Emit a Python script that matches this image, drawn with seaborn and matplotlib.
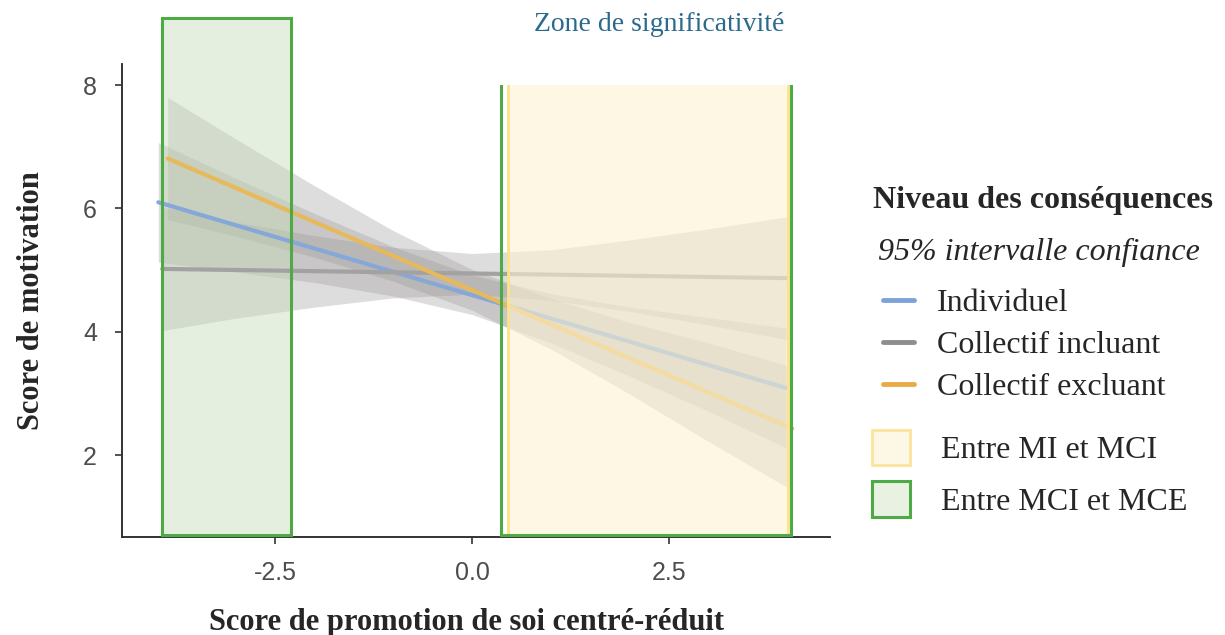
import numpy as np
import pandas as pd
import matplotlib.pyplot as plt
import seaborn as sns
from matplotlib.patches import Rectangle, Patch
from matplotlib.lines import Line2D

# groups and colours
groups = ["Individuel", "Collectif incluant", "Collectif excluant"]
line_colors = ["#86A8D8", "#A2A2A2", "#E8B95A"]
legend_colors = ["#7BA3D8", "#8E8E8E", "#E9AC45"]

# fitted simple slopes (end points)
ind_x = [-3.98, 3.98]
ind_y = [6.10, 3.09]
inc_x = [-3.93, 4.02]
inc_y = [5.02, 4.87]
exc_x = [-3.86, 4.06]
exc_y = [6.81, 2.43]

# 95% confidence bands
ind_ci_x = [-3.98, -3, -2, -1, 0, 1, 2, 3, 3.98]
ind_lo = [5.13, 4.97, 4.80, 4.58, 4.28, 3.82, 3.28, 2.71, 2.12]
ind_hi = [7.07, 6.49, 5.92, 5.38, 4.92, 4.62, 4.40, 4.23, 4.06]
inc_ci_x = [-3.93, -3, -2, -1, 0, 1, 2, 3, 4.02]
inc_lo = [4.02, 4.22, 4.40, 4.55, 4.61, 4.51, 4.33, 4.11, 3.87]
inc_hi = [6.02, 5.78, 5.56, 5.37, 5.27, 5.33, 5.49, 5.67, 5.87]
exc_ci_x = [-3.86, -3, -2, -1, 0, 1, 2, 3, 4.06]
exc_lo = [5.82, 5.55, 5.21, 4.82, 4.35, 3.72, 2.99, 2.22, 1.43]
exc_hi = [7.80, 7.13, 6.37, 5.64, 5.01, 4.54, 4.15, 3.82, 3.43]

# significance zones: (x start, x end, y top)
zones_mci_mce = [(-3.93, -2.30, 9.09), (0.37, 4.05, 8.10)]
zones_mi_mci = [(0.45, 4.01, 8.10)]
zone_bottom = 0.70
zone_clip_top = 8.0

xticks = [-2.5, 0.0, 2.5]
yticks = [2, 4, 6, 8]

sns.set_style("ticks")
plt.rcParams["font.family"] = ["Liberation Serif", "DejaVu Serif"]
tick_family = ["Liberation Sans Narrow", "Liberation Sans", "DejaVu Sans"]

fig = plt.figure(figsize=(12.25, 6.35), dpi=100)
ax = fig.add_axes([0.0996, 0.154, 0.578, 0.745])

df = pd.DataFrame({
    "x": ind_x + inc_x + exc_x,
    "y": ind_y + inc_y + exc_y,
    "groupe": [groups[0]] * 2 + [groups[1]] * 2 + [groups[2]] * 2,
})

# bands
for bx, lo, hi in [(ind_ci_x, ind_lo, ind_hi), (inc_ci_x, inc_lo, inc_hi), (exc_ci_x, exc_lo, exc_hi)]:
    ax.fill_between(bx, lo, hi, color="#9A9696", alpha=0.32, lw=0, zorder=1)

sns.lineplot(data=df, x="x", y="y", hue="groupe", hue_order=groups,
             palette=dict(zip(groups, line_colors)), lw=3, legend=False,
             ax=ax, zorder=3)

# zones
top_clip = Rectangle((-10, 0), 20, zone_clip_top, transform=ax.transData)
x0, x1, top = zones_mci_mce[0]
ax.add_patch(Rectangle((x0, zone_bottom), x1 - x0, top - zone_bottom,
                       facecolor=(198/255, 220/255, 184/255, 0.45), edgecolor="none",
                       clip_on=False, zorder=2))
for x0, x1, top in zones_mi_mci:
    r = Rectangle((x0, zone_bottom), x1 - x0, top - zone_bottom,
                  facecolor=(252/255, 242/255, 210/255, 0.6), edgecolor="#FBE38C",
                  lw=2, zorder=4)
    ax.add_patch(r)
    r.set_clip_path(top_clip)
# the right-hand zone has no top edge: clip it at 8
for i, (x0, x1, top) in enumerate(zones_mci_mce):
    r = Rectangle((x0, zone_bottom), x1 - x0, top - zone_bottom,
                  fill=False, edgecolor="#4DAA45", lw=2.2, clip_on=(i == 1), zorder=5)
    ax.add_patch(r)
    if i == 1:
        r.set_clip_path(top_clip)

ax.set_xlim(-4.44, 4.54)
ax.set_ylim(0.67, 8.34)
ax.set_xticks(xticks)
ax.set_yticks(yticks)
ax.set_xticklabels([f"{t:.1f}" for t in xticks])
ax.set_yticklabels([str(t) for t in yticks])
ax.tick_params(length=5, width=1.2, color="#333333", labelcolor="#4D4D4D", labelsize=18)
ax.tick_params(axis="y", pad=13)
ax.tick_params(axis="x", pad=12)
for lbl in ax.get_xticklabels() + ax.get_yticklabels():
    lbl.set_family(tick_family)
sns.despine(ax=ax)
for s in ["left", "bottom"]:
    ax.spines[s].set_color("#333333")
    ax.spines[s].set_linewidth(1.4)

ax.set_xlabel("Score de promotion de soi centré-réduit", fontsize=22, fontweight="bold")
ax.set_ylabel("Score de motivation", fontsize=22, fontweight="bold")
ax.xaxis.set_label_coords(0.486, -0.15)
ax.yaxis.set_label_coords(-0.108, 0.5)

fig.text(0.538, 0.962, "Zone de significativité", color="#2B6A8C", fontsize=20,
         ha="center", va="center")

# legend
fig.text(0.7127, 0.685, "Niveau des conséquences", fontsize=23, fontweight="bold", va="center")
fig.text(0.7167, 0.6016, "95% intervalle confiance", fontsize=23, style="italic", va="center")
line_handles = [Line2D([], [], color=c, lw=3.5) for c in legend_colors]
fig.legend(line_handles, groups, loc="upper left", bbox_to_anchor=(0.7208, 0.545),
           frameon=False, fontsize=23, handlelength=0.97, handletextpad=0.72,
           labelspacing=0.39, borderpad=0, borderaxespad=0)
zone_handles = [
    Patch(facecolor="#FDF8E6", edgecolor="#FBE59A", lw=2),
    Patch(facecolor="#E8F1E2", edgecolor="#4DAA45", lw=2.2),
]
fig.legend(zone_handles, ["Entre MI et MCI", "Entre MCI et MCE"], loc="upper left",
           bbox_to_anchor=(0.7118, 0.3228), frameon=False, fontsize=23,
           handlelength=1.19, handleheight=1.33, handletextpad=0.97,
           labelspacing=0.5, borderpad=0, borderaxespad=0)

fig.savefig("out.png", dpi=100)
